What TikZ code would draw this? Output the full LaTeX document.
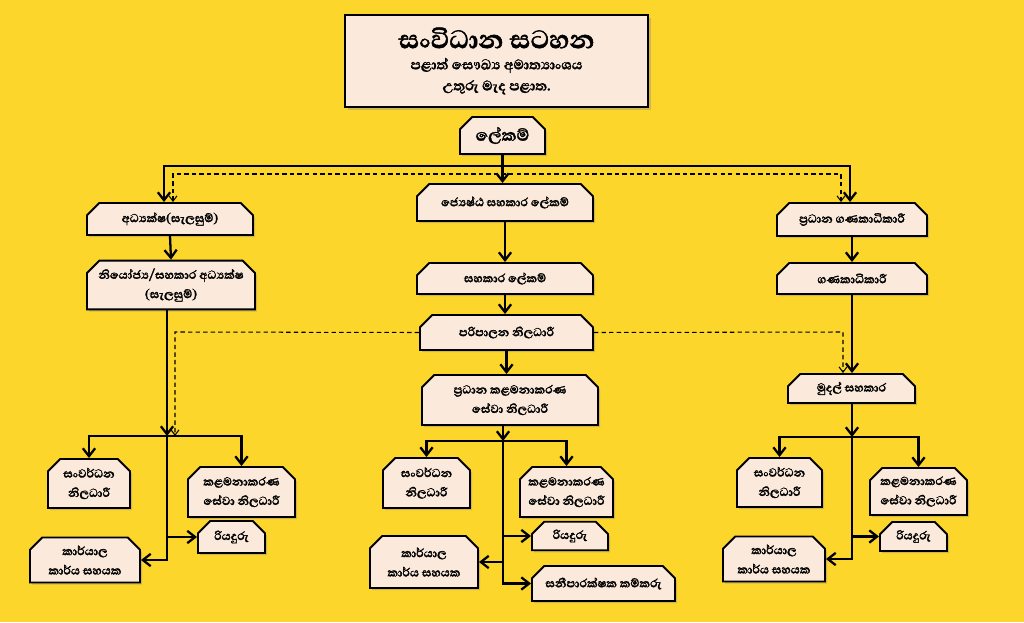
\documentclass[tikz,border=0pt]{standalone}
\usepackage{fontspec}
\setmainfont[Script=Sinhala, BoldFeatures={FakeBold=1.5}]{Abhaya Libre}
\usetikzlibrary{shapes.misc,shadows,arrows.meta}
\definecolor{bgyellow}{RGB}{253,214,44}
\definecolor{boxfill}{RGB}{251,234,219}
\tikzset{
  post/.style={chamfered rectangle, chamfered rectangle corners={north west,north east},
    chamfered rectangle sep=3.5pt, draw, line width=1.1pt, fill=boxfill, inner sep=1pt,
    align=center, font=\bfseries\fontsize{8.5}{11}\selectfont,
    drop shadow={shadow xshift=1.2pt, shadow yshift=-1.2pt, opacity=.35}},
  headbox/.style={rectangle, draw, line width=1.4pt, fill=boxfill, align=center,
    drop shadow={shadow xshift=1.5pt, shadow yshift=-1.5pt, opacity=.35}},
  link/.style={line width=1.3pt, -{Straight Barb[length=4.5pt,width=7pt]}},
  bus/.style={line width=1.3pt, {Straight Barb[length=4.5pt,width=7pt]}-{Straight Barb[length=4.5pt,width=7pt]}},
  dlink/.style={line width=.6pt, dash pattern=on 2.5pt off 1.8pt, -{Straight Barb[length=3pt,width=4.5pt]}},
  dbus/.style={line width=.6pt, dash pattern=on 2.5pt off 1.8pt, {Straight Barb[length=3pt,width=4.5pt]}-{Straight Barb[length=3pt,width=4.5pt]}}
}
\begin{document}
\begin{tikzpicture}[x=0.02cm, y=-0.02cm]
  \fill[bgyellow] (0,0) rectangle (1024,622);
  % Nodes
  \node (title) [headbox, minimum width=6.06cm, minimum height=1.84cm] at (496.5,61)
    {{\bfseries\fontsize{18.5}{21}\selectfont සංවිධාන සටහන}\\[0pt]
     {\bfseries\fontsize{10}{11.5}\selectfont පළාත් සෞඛ්^^^^200dය අමාත්^^^^200dයාංශය}\\
     {\bfseries\fontsize{10}{11.5}\selectfont උතුරු මැද පළාත.}};
  \node (sec) [post, minimum width=1.70cm, minimum height=.74cm, font=\bfseries\fontsize{12}{14}\selectfont] at (502.5,135.5) {ලේකම්};
  \node (dir-plan) [post, minimum width=3.32cm, minimum height=.64cm] at (170,219) {අධ්^^^^200dයක්ෂ(සැලසුම්)};
  \node (snr-sec) [post, minimum width=3.52cm, minimum height=.74cm] at (505,202.5) {ජ්^^^^200dයෙෂ්ඨ සහකාර ලේකම්};
  \node (chief-acc) [post, minimum width=3.00cm, minimum height=.66cm] at (852,219.5) {ප්^^^^200dරධාන ගණකාධිකාරී};
  \node (dep-dir) [post, minimum width=3.36cm, minimum height=.92cm] at (171,285) {නියෝජ්^^^^200dය/සහකාර අධ්^^^^200dයක්ෂ\\(සැලසුම්)};
  \node (asst-sec) [post, minimum width=3.52cm, minimum height=.62cm] at (505,278.5) {සහකාර ලේකම්};
  \node (acct) [post, minimum width=3.00cm, minimum height=.62cm] at (852,278.5) {ගණකාධිකාරී};
  \node (admin) [post, minimum width=3.46cm, minimum height=.70cm] at (506.5,332.5) {පරිපාලන නිලධාරී};
  \node (chief-mgmt) [post, minimum width=3.52cm, minimum height=1.00cm] at (510,400) {ප්^^^^200dරධාන කළමනාකරණ\\සේවා නිලධාරී};
  \node (fin-asst) [post, minimum width=2.54cm, minimum height=.58cm] at (851.5,388.5) {මුදල් සහකාර};
  % left group
  \node (dev-l) [post, minimum width=1.64cm, minimum height=.98cm] at (89,483.5) {සංවර්ධන\\නිලධාරී};
  \node (mgmt-l) [post, minimum width=2.14cm, minimum height=1.00cm] at (241.5,492) {කළමනාකරණ\\සේවා නිලධාරී};
  \node (drv-l) [post, minimum width=1.34cm, minimum height=.64cm] at (231.5,537) {රියදුරු};
  \node (off-l) [post, minimum width=2.20cm, minimum height=.90cm] at (85,560) {කාර්යාල\\කාර්ය සහයක};
  % middle group
  \node (dev-m) [post, minimum width=1.74cm, minimum height=1.00cm] at (426.5,483) {සංවර්ධන\\නිලධාරී};
  \node (mgmt-m) [post, minimum width=1.86cm, minimum height=1.00cm] at (566.5,492) {කළමනාකරණ\\සේවා නිලධාරී};
  \node (drv-m) [post, minimum width=1.52cm, minimum height=.56cm] at (570,536) {රියදුරු};
  \node (off-m) [post, minimum width=2.16cm, minimum height=1.04cm] at (424,562) {කාර්යාල\\කාර්ය සහයක};
  \node (san-m) [post, minimum width=2.86cm, minimum height=.70cm] at (603.5,583.5) {සනීපාරක්ෂක කම්කරු};
  % right group
  \node (dev-r) [post, minimum width=1.70cm, minimum height=.98cm] at (779.5,482.5) {සංවර්ධන\\නිලධාරී};
  \node (mgmt-r) [post, minimum width=1.94cm, minimum height=.94cm] at (918.5,491.5) {කළමනාකරණ\\සේවා නිලධාරී};
  \node (drv-r) [post, minimum width=1.34cm, minimum height=.58cm] at (913.5,536.5) {රියදුරු};
  \node (off-r) [post, minimum width=2.04cm, minimum height=.90cm] at (774,559) {කාර්යාල\\කාර්ය සහයක};
  % Joints
  \coordinate (top-l) at (164,166);
  \coordinate (top-r) at (850,166);
  \coordinate (dtop-l) at (173,174);
  \coordinate (dtop-r) at (841,174);
  \coordinate (d-l) at (175,332);
  \coordinate (d-r) at (843,332);
  \coordinate (j-l) at (167,436);
  \coordinate (j-m) at (503,441);
  \coordinate (j-r) at (852,437);
  % Arrow
  \draw[link] (sec.south) -- (sec.south |- snr-sec.north);
  \draw[bus] (dir-plan.north -| top-l) -- (top-l) -- (top-r) -- (chief-acc.north -| top-r);
  \draw[dbus] (dir-plan.north -| dtop-l) -- (dtop-l) -- (dtop-r) -- (chief-acc.north -| dtop-r);
  \draw[link] (dir-plan.south) -- (dep-dir.north);
  \draw[link] (snr-sec.south) -- (asst-sec.north);
  \draw[link] (asst-sec.south) -- (admin.north -| asst-sec.south);
  \draw[link] (admin.south) -- (admin.south |- chief-mgmt.north);
  \draw[link] (chief-acc.south) -- (acct.north);
  \draw[link] (acct.south) -- (acct.south |- fin-asst.north);
  \draw[dlink] (admin.west) -- (d-l) -- (d-l |- j-l);
  \draw[dlink] (admin.east) -- (d-r) -- (d-r |- fin-asst.north);
  % left
  \draw[link] (dep-dir.south -| j-l) -- (j-l);
  \draw[bus] (dev-l.north) |- (j-l) -| (mgmt-l.north);
  \draw[link] (j-l) |- (off-l.east);
  \draw[link] (j-l |- drv-l.west) -- (drv-l.west);
  % middle
  \draw[link] (chief-mgmt.south -| j-m) -- (j-m);
  \draw[bus] (dev-m.north) |- (j-m) -| (mgmt-m.north);
  \draw[link] (j-m) |- (san-m.west);
  \draw[link] (j-m |- drv-m.west) -- (drv-m.west);
  \draw[link] (j-m |- off-m.east) -- (off-m.east);
  % right
  \draw[link] (fin-asst.south -| j-r) -- (j-r);
  \draw[bus] (dev-r.north) |- (j-r) -| (mgmt-r.north);
  \draw[link] (j-r) |- (off-r.east);
  \draw[link] (j-r |- drv-r.west) -- (drv-r.west);
\end{tikzpicture}
\end{document}
